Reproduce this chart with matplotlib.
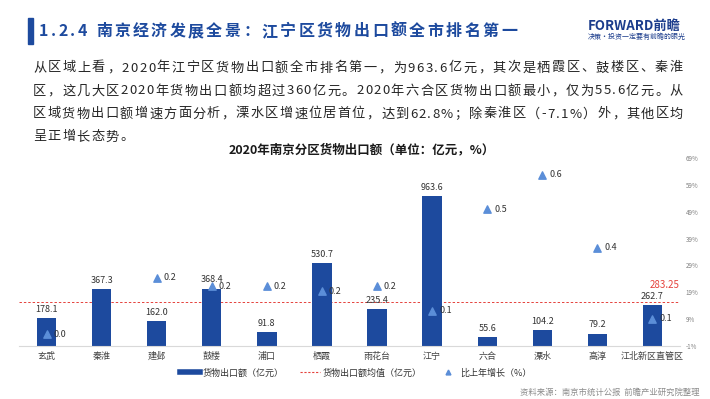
import matplotlib
matplotlib.use("Agg")
import matplotlib.pyplot as plt
from matplotlib.lines import Line2D
import numpy as np

plt.rcParams["font.family"] = ["Noto Sans CJK SC", "DejaVu Sans"]

# data
districts = ["玄武", "秦淮", "建邺", "鼓楼", "浦口", "栖霞", "雨花台", "江宁", "六合", "溧水", "高淳", "江北新区直管区"]
exports = [178.1, 367.3, 162.0, 368.4, 91.8, 530.7, 235.4, 963.6, 55.6, 104.2, 79.2, 262.7]
growth = [3.3, -7.1, 24.5, 21.3, 21.3, 19.4, 21.3, 12.1, 49.9, 62.8, 35.5, 9.1]
right_ticks = [-1, 9, 19, 29, 39, 49, 59, 69]

header = "1.2.4 南京经济发展全景：江宁区货物出口额全市排名第一"
para = [
    "从区域上看，2020年江宁区货物出口额全市排名第一，为963.6亿元，其次是栖霞区、鼓楼区、秦淮",
    "区，这几大区2020年货物出口额均超过360亿元。2020年六合区货物出口额最小，仅为55.6亿元。从",
    "区域货物出口额增速方面分析，溧水区增速位居首位，达到62.8%；除秦淮区（-7.1%）外，其他区均",
    "呈正增长态势。",
]
chart_title = "2020年南京分区货物出口额（单位：亿元，%）"
source = "资料来源：南京市统计公报  前瞻产业研究院整理"

W, H = 710, 399
fig = plt.figure(figsize=(W / 100, H / 100), dpi=100)
renderer = fig.canvas.get_renderer()

BAR = "#1d4a9e"
TRI = "#5b8ed8"
RED = "#e5413b"


def spaced(x0, y, s, size, x1=None, gap=None, **kw):
    # lay out text char by char, in pixels from top-left
    objs = [fig.text(0, 1 - y / H, c, fontsize=size, va="center", ha="left", **kw) for c in s]
    widths = [o.get_window_extent(renderer).width for o in objs]
    if x1 is not None:
        gap = (x1 - x0 - sum(widths)) / (len(s) - 1)
    x = x0
    for o, w in zip(objs, widths):
        o.set_x(x / W)
        x += w + gap
    return gap


# header
fig.patches.append(plt.Rectangle((28 / W, 1 - 44 / H), 5 / W, 26 / H, transform=fig.transFigure,
                                 color=BAR, zorder=3))
spaced(39, 31, header, 11.5, x1=517, color=BAR, weight="bold")
fig.text(588 / W, 1 - 26 / H, "FORWARD前瞻", fontsize=9.5, color="#1b3c8c", weight="bold", va="center")
fig.text(588 / W, 1 - 37 / H, "决策·投资一定要有前瞻的眼光", fontsize=5, color="#1b3c8c", va="center")

# paragraph
g = 0
for i, line in enumerate(para):
    y = 68 + i * 23
    if i < 3:
        g = spaced(33, y, line, 9.5, x1=683, color="#262626")
    else:
        spaced(33, y, line, 9.5, gap=g, color="#262626")

fig.text(362 / W, 1 - 150 / H, chart_title, fontsize=9, weight="bold", ha="center", va="center",
         color="#1a1a1a")

# chart
ax = fig.add_axes([19 / W, 53 / H, 661 / W, 188 / H])
x = np.arange(len(districts))
ax.bar(x, exports, width=0.35, color=BAR, zorder=2)
for xi, v in zip(x, exports):
    ax.annotate(f"{v:.1f}", (xi, v), xytext=(0, 3), textcoords="offset points",
                ha="center", va="bottom", fontsize=6.5, color="#333333")
mean = np.mean(exports)
ax.axhline(mean, color=RED, lw=0.7, ls=(0, (2.5, 2)), zorder=1)
ax.annotate(f"{mean:.2f}", (11.5, mean), xytext=(0, 12), textcoords="offset points",
            ha="right", va="center", fontsize=7, color=RED)
ax.set_xlim(-0.5, 11.5)
ax.set_ylim(0, 1207)
ax.set_xticks(x)
ax.set_xticklabels(districts, fontsize=6.5, color="#404040")
ax.tick_params(axis="x", length=0, pad=4)
ax.set_yticks([])
for s in ["top", "left", "right"]:
    ax.spines[s].set_visible(False)
ax.spines["bottom"].set_color("#d9d9d9")
ax.patch.set_alpha(0)

ax2 = ax.twinx()
ax2.scatter(x, growth, marker="^", s=28, color=TRI, zorder=3)
for xi, gv in zip(x, growth):
    if gv > right_ticks[0]:
        ax2.annotate(f"{gv / 100:.1f}", (xi, gv), xytext=(5, 0), textcoords="offset points",
                     ha="left", va="center", fontsize=6.5, color="#333333")
ax2.set_ylim(-1, 69)
ax2.set_yticks(right_ticks)
ax2.set_yticklabels([f"{t}%" for t in right_ticks], fontsize=4.5, color="#7f7f7f")
ax2.tick_params(axis="y", length=0, pad=4)
for s in ["top", "left", "right", "bottom"]:
    ax2.spines[s].set_visible(False)

handles = [
    Line2D([], [], color=BAR, lw=4),
    Line2D([], [], color=RED, lw=0.8, ls=(0, (2, 1.5))),
    Line2D([], [], color=TRI, marker="^", ls="", markersize=3.5),
]
fig.legend(handles, ["货物出口额（亿元）", "货物出口额均值（亿元）", "比上年增长（%）"],
           loc="center", bbox_to_anchor=(356 / W, 1 - 373 / H), ncol=3, frameon=False,
           fontsize=6.5, handlelength=2.2, columnspacing=1.8, handletextpad=0.3,
           labelcolor="#333333")

fig.text(700 / W, 1 - 392 / H, source, fontsize=6, color="#8c8c8c", ha="right", va="center")

fig.savefig("out.png", dpi=100)
